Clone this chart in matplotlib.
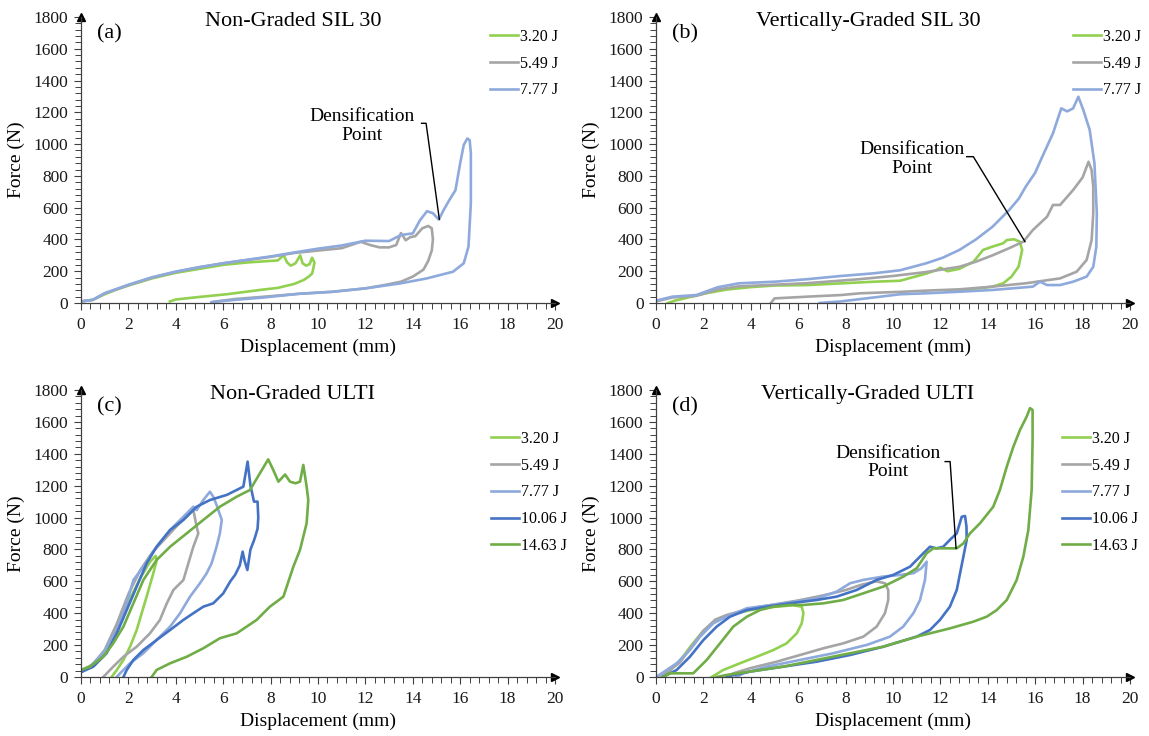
import matplotlib
matplotlib.use('Agg')
import matplotlib.pyplot as plt
from matplotlib.ticker import MultipleLocator

plt.rcParams['font.family'] = ['Liberation Serif', 'DejaVu Serif']

# ---------------- data ----------------
labels_sil = ['3.20 J', '5.49 J', '7.77 J']
labels_ulti = ['3.20 J', '5.49 J', '7.77 J', '10.06 J', '14.63 J']
colors_sil = ['#92D050', '#A5A5A5', '#8EA9DB']
colors_ulti = ['#92D050', '#A5A5A5', '#8EA9DB', '#4472C4', '#70AD47']

# (a) Non-Graded SIL 30
a_320_x = [0, 0.5, 1.0, 1.5, 2.0, 3.0, 4.0, 5.0, 6.0, 7.0, 8.0, 8.3, 8.55, 8.7, 8.85, 9.05, 9.25, 9.35, 9.5,
           9.65, 9.75, 9.85, 9.8, 9.75, 9.6, 9.4, 9.0, 8.3, 7.6, 6.2, 4.8, 4.0, 3.75]
a_320_y = [10, 20, 55, 85, 110, 155, 190, 215, 240, 255, 265, 268, 300, 255, 235, 250, 300, 250, 235,
           245, 285, 255, 215, 185, 165, 145, 120, 95, 83, 56, 35, 22, 10]
a_549_x = [0, 0.5, 1.0, 2.0, 3.0, 4.0, 5.0, 6.0, 7.0, 8.0, 9.0, 10.0, 11.0, 11.8, 12.2, 12.6, 13.0, 13.3,
           13.5, 13.7, 13.9, 14.1, 14.4, 14.65, 14.8, 14.85, 14.8, 14.65, 14.45, 14.0, 13.5, 12.8, 12.0,
           10.6, 9.2, 7.6, 6.5, 5.6]
a_549_y = [10, 20, 60, 112, 160, 195, 225, 250, 270, 290, 315, 330, 345, 385, 365, 350, 350, 365,
           440, 395, 415, 420, 470, 485, 470, 400, 330, 265, 210, 166, 134, 113, 92,
           71, 58, 38, 25, 8]
a_777_x = [0, 0.5, 1.0, 2.0, 3.0, 4.0, 5.0, 6.0, 7.0, 8.0, 9.0, 10.0, 11.0, 12.0, 13.0, 13.5, 14.0, 14.3,
           14.6, 14.85, 15.1, 15.3, 15.55, 15.8, 16.0, 16.15, 16.3, 16.4, 16.45, 16.45, 16.35, 16.15, 15.7,
           15.15, 14.6, 13.5, 12.0, 10.6, 9.2, 7.6, 6.5, 5.5]
a_777_y = [10, 20, 62, 115, 162, 198, 226, 250, 272, 293, 318, 342, 362, 392, 390, 428, 438, 520,
           578, 565, 525, 585, 650, 710, 880, 995, 1035, 1025, 940, 630, 355, 250, 197,
           176, 155, 124, 92, 70, 58, 33, 20, 5]

# (b) Vertically-Graded SIL 30
b_320_x = [0.5, 0.8, 1.5, 2.1, 3.0, 4.0, 5.0, 6.4, 8.0, 9.2, 10.3, 11.4, 11.8, 12.0, 12.3, 12.8, 13.4, 13.8,
           14.2, 14.65, 14.8, 15.1, 15.35, 15.45, 15.3, 15.0, 14.65, 14.2, 13.3, 12.5]
b_320_y = [0, 15, 40, 61, 85, 100, 110, 113, 125, 134, 140, 185, 205, 222, 200, 215, 260, 334,
           355, 376, 396, 401, 386, 334, 229, 166, 124, 103, 86, 75]
b_549_x = [0, 0.7, 1.7, 2.6, 3.5, 5.0, 6.4, 8.6, 10.0, 11.4, 12.8, 13.5, 14.2, 14.9, 15.5, 15.9, 16.5,
           16.75, 17.05, 17.6, 18.0, 18.25, 18.38, 18.45, 18.45, 18.38, 18.17, 17.75, 17.05, 15.6, 14.2,
           12.8, 11.4, 10.3, 8.6, 7.8, 6.4, 5.0, 4.85]
b_549_y = [10, 35, 45, 85, 105, 115, 125, 150, 170, 195, 228, 260, 300, 345, 386, 459, 543,
           617, 617, 711, 790, 889, 837, 732, 565, 396, 271, 197, 155, 124, 103,
           86, 78, 70, 61, 50, 40, 29, 0]
b_777_x = [0, 0.7, 1.7, 2.6, 3.5, 5.0, 6.4, 7.8, 9.2, 10.3, 11.4, 12.1, 12.8, 13.5, 14.2, 14.9, 15.3,
           15.6, 16.0, 16.3, 16.75, 17.1, 17.35, 17.6, 17.82, 18.03, 18.3, 18.5, 18.6, 18.58, 18.45,
           18.17, 17.6, 17.05, 16.5, 16.2, 15.9, 14.2, 12.8, 11.4, 10.3, 9.2, 7.8, 6.9]
b_777_y = [15, 40, 50, 99, 124, 134, 150, 170, 187, 206, 250, 285, 334, 400, 480, 585, 655,
           732, 820, 921, 1068, 1225, 1206, 1225, 1298, 1215, 1089, 879, 565, 355, 228,
           166, 134, 113, 113, 134, 103, 82, 71, 61, 55, 35, 10, 0]

# (c) Non-Graded ULTI
c_320_x = [0, 0.5, 1.0, 1.5, 2.0, 2.5, 2.9, 3.15, 3.2, 3.05, 2.77, 2.56, 2.35, 2.07, 1.79, 1.51, 1.29]
c_320_y = [40, 65, 140, 290, 470, 620, 720, 760, 734, 650, 504, 400, 295, 190, 107, 44, 0]
c_549_x = [0, 0.5, 1.0, 1.5, 2.0, 2.5, 3.0, 3.5, 4.0, 4.4, 4.74, 4.88, 4.95, 4.74, 4.53, 4.32, 3.9,
           3.62, 3.33, 2.91, 2.35, 1.79, 1.36, 0.94]
c_549_y = [40, 80, 170, 330, 520, 670, 780, 860, 940, 1000, 1047, 943, 901, 817, 713, 608, 546,
           462, 358, 274, 190, 127, 65, 0]
c_777_x = [0, 0.38, 0.94, 1.51, 1.93, 2.21, 2.63, 3.19, 3.76, 4.46, 4.74, 4.88, 5.16, 5.44, 5.58, 5.72,
           5.94, 5.86, 5.72, 5.51, 5.3, 5.02, 4.6, 4.18, 3.76, 3.19, 2.63, 2.07, 1.65, 1.51]
c_777_y = [30, 65, 149, 295, 462, 608, 692, 817, 922, 1026, 1068, 1047, 1110, 1162, 1131, 1079,
           985, 901, 817, 713, 650, 588, 504, 400, 316, 232, 149, 86, 23, 0]
c_1006_x = [0, 0.52, 1.08, 1.51, 1.93, 2.35, 2.77, 3.19, 3.76, 4.32, 4.88, 5.44, 6.15, 6.57, 6.85, 7.03,
            7.15, 7.3, 7.45, 7.48, 7.45, 7.35, 7.28, 7.15, 7.02, 6.9, 6.82, 6.7, 6.5, 6.3, 6.0, 5.58,
            5.16, 4.74, 4.32, 3.76, 3.19, 2.63, 2.21, 1.93, 1.79]
c_1006_y = [30, 65, 149, 274, 420, 567, 713, 817, 922, 985, 1068, 1110, 1142, 1173, 1194, 1351,
            1200, 1100, 1100, 1000, 930, 880, 849, 800, 671, 730, 786, 700, 640, 600, 524, 462,
            441, 400, 358, 295, 232, 169, 107, 44, 0]
c_1463_x = [0, 0.38, 0.94, 1.36, 1.79, 2.21, 2.63, 3.19, 3.76, 4.46, 5.16, 5.86, 6.57, 7.13, 7.55, 7.9,
            8.12, 8.33, 8.61, 8.82, 9.05, 9.24, 9.38, 9.52, 9.59, 9.52, 9.24, 8.96, 8.54, 7.97, 7.41,
            6.57, 5.86, 5.16, 4.46, 3.76, 3.19, 2.98]
c_1463_y = [44, 65, 127, 211, 316, 462, 608, 734, 817, 901, 985, 1068, 1131, 1173, 1278, 1365,
            1296, 1225, 1270, 1225, 1215, 1225, 1330, 1194, 1110, 964, 797, 692, 504, 441, 358,
            274, 243, 180, 127, 86, 44, 0]

# (d) Vertically-Graded ULTI
d_320_x = [0.3, 1.0, 1.5, 2.0, 2.5, 3.0, 4.0, 5.0, 5.8, 6.15, 6.22, 6.15, 5.94, 5.51, 4.95, 4.25, 3.54,
           2.84, 2.35]
d_320_y = [0, 100, 200, 290, 350, 385, 420, 440, 450, 441, 400, 337, 274, 211, 169, 127, 86, 44, 0]
d_549_x = [0.2, 1.0, 1.5, 2.0, 2.5, 3.0, 4.0, 5.0, 6.0, 7.0, 8.0, 8.7, 9.3, 9.66, 9.8, 9.8, 9.66, 9.31,
           8.75, 7.9, 7.06, 6.08, 5.09, 3.97, 3.26, 2.98]
d_549_y = [0, 90, 190, 290, 360, 390, 430, 455, 480, 510, 545, 580, 600, 588, 546, 483, 400, 316,
           253, 211, 180, 138, 96, 55, 23, 0]
d_777_x = [0.03, 0.87, 1.43, 1.86, 2.42, 2.98, 3.83, 5.37, 6.78, 7.62, 8.19, 8.75, 9.59, 10.3, 10.86,
           11.2, 11.42, 11.35, 11.14, 10.86, 10.43, 9.87, 8.89, 7.48, 6.08, 4.67, 3.68, 3.4]
d_777_y = [2, 86, 169, 253, 337, 378, 431, 462, 493, 535, 588, 609, 630, 640, 651,
           682, 723, 609, 483, 400, 316, 253, 201, 149, 107, 65, 23, 0]
d_1006_x = [0.31, 0.87, 1.43, 2.0, 2.56, 3.12, 3.83, 4.67, 5.65, 6.78, 7.62, 8.47, 9.31, 10.01, 10.72,
            11.28, 11.56, 11.84, 12.12, 12.4, 12.69, 12.9, 13.04, 13.1, 13.11, 12.97, 12.83, 12.69,
            12.4, 11.98, 11.56, 11.0, 10.3, 9.59, 8.19, 6.78, 5.37, 3.97, 2.98]
d_1006_y = [2, 44, 127, 232, 316, 378, 420, 441, 462, 483, 504, 546, 609, 640, 692,
            776, 817, 807, 817, 860, 901, 1005, 1010, 943, 860, 755, 651, 546,
            441, 358, 295, 253, 222, 190, 138, 96, 65, 34, 2]
d_1463_x = [0.3, 0.59, 1.57, 2.14, 2.7, 3.26, 3.83, 4.39, 4.95, 5.65, 6.22, 7.06, 7.9, 8.75, 9.59, 10.43,
            11.0, 11.42, 11.7, 12.69, 12.97, 13.25, 13.67, 14.23, 14.51, 14.8, 15.08, 15.36, 15.64,
            15.78, 15.89, 15.89, 15.85, 15.71, 15.5, 15.22, 14.8, 14.38, 13.95, 13.39, 12.4, 11.0,
            9.59, 8.19, 6.78, 5.37, 3.97, 2.98, 2.56]
d_1463_y = [0, 23, 23, 107, 211, 316, 378, 420, 441, 452, 452, 462, 483, 525, 567, 629,
            682, 776, 807, 807, 838, 901, 964, 1068, 1173, 1319, 1445, 1550, 1633,
            1686, 1675, 1487, 1173, 922, 755, 609, 483, 420, 378, 347, 305, 253,
            190, 149, 107, 65, 34, 13, 0]

# "Densification Point" leader lines and text anchors (data units)
a_dens_x = [14.37, 14.56, 15.12]
a_dens_y = [1131, 1131, 527]
a_dens_text = (11.86, 1114)
b_dens_x = [13.11, 13.39, 15.57]
b_dens_y = [921, 921, 386]
b_dens_text = (10.8, 906)
d_dens_x = [12.2, 12.41, 12.66]
d_dens_y = [1351, 1351, 807]
d_dens_text = (9.8, 1345)

titles = ['Non-Graded SIL 30', 'Vertically-Graded SIL 30', 'Non-Graded ULTI', 'Vertically-Graded ULTI']
tags = ['(a)', '(b)', '(c)', '(d)']

# ---------------- figure ----------------
W, H = 1149, 736
fig = plt.figure(figsize=(W / 100, H / 100), dpi=100)


def px_axes(x0, x1, y0, y1):
    return fig.add_axes([x0 / W, (H - y0) / H, (x1 - x0) / W, (y0 - y1) / H])


ax_a = px_axes(81, 555, 303, 17)
ax_b = px_axes(656, 1130, 303, 17)
ax_c = px_axes(81, 555, 677, 390)
ax_d = px_axes(656, 1130, 677, 390)

AX_COL = '#404040'


def setup(ax, title, tag):
    ax.set_xlim(0, 20)
    ax.set_ylim(0, 1800)
    for s in ('top', 'right'):
        ax.spines[s].set_visible(False)
    for s in ('left', 'bottom'):
        ax.spines[s].set_color(AX_COL)
        ax.spines[s].set_linewidth(0.9)
    ax.xaxis.set_major_locator(MultipleLocator(2))
    ax.xaxis.set_minor_locator(MultipleLocator(0.4))
    ax.yaxis.set_major_locator(MultipleLocator(200))
    ax.yaxis.set_minor_locator(MultipleLocator(40))
    ax.tick_params(which='major', length=5, width=0.8, color=AX_COL, labelsize=12.5,
                   labelcolor='#1a1a1a', direction='out')
    ax.tick_params(which='minor', length=4, width=0.7, color=AX_COL, direction='out')
    ax.tick_params(axis='x', which='major', pad=5)
    ax.tick_params(axis='y', which='major', pad=4)
    ax.set_xlabel('Displacement (mm)', fontsize=14, labelpad=4)
    ax.set_ylabel('Force (N)', fontsize=14, labelpad=6)
    ax.plot(1, 0, marker='>', color='black', markersize=6, transform=ax.get_yaxis_transform(),
            clip_on=False)
    ax.plot(0, 1, marker='^', color='black', markersize=6, transform=ax.get_xaxis_transform(),
            clip_on=False)
    ax.text(0.447, 0.983, title, transform=ax.transAxes, ha='center', va='center', fontsize=16)
    ax.text(0.034, 0.94, tag, transform=ax.transAxes, ha='left', va='center', fontsize=16)


LW = 1.9

for ax, t, g in zip([ax_a, ax_b, ax_c, ax_d], titles, tags):
    setup(ax, t, g)

# (a)
for xs, ys, c, lab in zip([a_320_x, a_549_x, a_777_x], [a_320_y, a_549_y, a_777_y], colors_sil, labels_sil):
    ax_a.plot(xs, ys, color=c, lw=LW, label=lab)
# (b)
for xs, ys, c, lab in zip([b_320_x, b_549_x, b_777_x], [b_320_y, b_549_y, b_777_y], colors_sil, labels_sil):
    ax_b.plot(xs, ys, color=c, lw=LW, label=lab)
# (c)
for xs, ys, c, lab in zip([c_320_x, c_549_x, c_777_x, c_1006_x, c_1463_x],
                          [c_320_y, c_549_y, c_777_y, c_1006_y, c_1463_y], colors_ulti, labels_ulti):
    ax_c.plot(xs, ys, color=c, lw=LW, label=lab)
# (d)
for xs, ys, c, lab in zip([d_320_x, d_549_x, d_777_x, d_1006_x, d_1463_x],
                          [d_320_y, d_549_y, d_777_y, d_1006_y, d_1463_y], colors_ulti, labels_ulti):
    ax_d.plot(xs, ys, color=c, lw=LW, label=lab)

# legends
leg_kw = dict(loc='upper left', frameon=False, fontsize=11.5, handlelength=1.75, handletextpad=0.1,
              labelspacing=0.67, borderpad=0, borderaxespad=0)
ax_a.legend(bbox_to_anchor=(0.863, 0.958), **leg_kw)
ax_b.legend(bbox_to_anchor=(0.880, 0.958), **leg_kw)
ax_c.legend(bbox_to_anchor=(0.865, 0.857), **leg_kw)
ax_d.legend(bbox_to_anchor=(0.857, 0.857), **leg_kw)

# densification annotations
for ax, xs, ys, txt in [(ax_a, a_dens_x, a_dens_y, a_dens_text),
                        (ax_b, b_dens_x, b_dens_y, b_dens_text),
                        (ax_d, d_dens_x, d_dens_y, d_dens_text)]:
    ax.plot(xs, ys, color='black', lw=1.0)
    ax.text(txt[0], txt[1], 'Densification\nPoint', ha='center', va='center', fontsize=14,
            linespacing=1.1)

fig.savefig('out.png', dpi=100)
